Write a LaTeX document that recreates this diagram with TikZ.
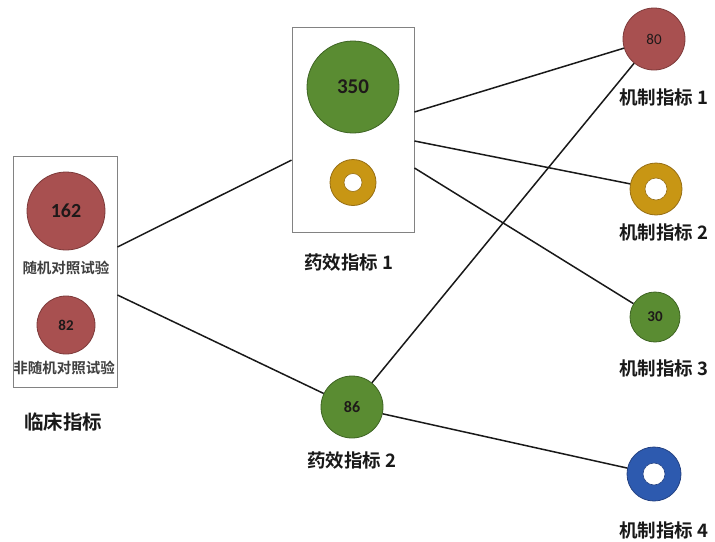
\documentclass[tikz,border=0pt]{standalone}
\usepackage{fontspec}
\newfontfamily\cjk{Noto Sans CJK SC}[BoldFont={* Bold}]
\newfontfamily\numf{Carlito}
\definecolor{redf}{RGB}{168,80,80}
\definecolor{rede}{RGB}{125,58,58}
\definecolor{greenf}{RGB}{90,140,50}
\definecolor{greene}{RGB}{62,100,35}
\definecolor{goldf}{RGB}{200,150,20}
\definecolor{golde}{RGB}{150,110,20}
\definecolor{bluef}{RGB}{45,90,175}
\definecolor{bluee}{RGB}{35,65,130}
\definecolor{boxe}{RGB}{130,130,130}
\definecolor{numc}{RGB}{30,25,25}
\tikzset{
  bubble/.style={circle, inner sep=0pt, line width=0.8pt, text=numc, font=\numf\bfseries},
  holeb/.style={circle, inner sep=0pt, fill=white, draw=#1, line width=0.6pt, minimum size=20pt},
  groupbox/.style={draw=boxe, line width=0.9pt, fill=white, rectangle, inner sep=0pt},
  biglabel/.style={font=\cjk\bfseries\fontsize{18.5}{18.5}\selectfont, text=black!90},
  smalllabel/.style={font=\cjk\bfseries\fontsize{14.5}{14.5}\selectfont, text=black!75},
  link/.style={line width=1.5pt, black!90}
}
\begin{document}
\begin{tikzpicture}[x=1pt,y=-1pt]
\useasboundingbox (0,0) rectangle (715,541);
% boxes
\node[groupbox, minimum width=104pt, minimum height=231pt] (L) at (65,271.5) {};
\node[groupbox, minimum width=122pt, minimum height=205pt] (M) at (353,129.5) {};
% left box content
\node[bubble, fill=redf, draw=rede, minimum size=78pt, font=\numf\bfseries\fontsize{20}{20}\selectfont] (c162) at (66,211) {162};
\node[smalllabel] (t162) at (66,268) {随机对照试验};
\node[bubble, fill=redf, draw=rede, minimum size=58pt, font=\numf\bfseries\fontsize{15}{15}\selectfont] (c82) at (66,325) {82};
\node[smalllabel] (t82) at (64,368) {非随机对照试验};
\node[biglabel, font=\cjk\bfseries\fontsize{19.5}{19.5}\selectfont] (tL) at (63,422) {临床指标};
% middle box content
\node[bubble, fill=greenf, draw=greene, minimum size=92pt, font=\numf\bfseries\fontsize{21}{21}\selectfont] (c350) at (353,87) {350};
\node[bubble, fill=goldf, draw=golde, minimum size=46pt] (r1) at (353,182.5) {};
\node[holeb=golde, minimum size=18pt] (h1) at (r1) {};
\node[biglabel] (tM) at (349,262) {药效指标 1};
% pharmacodynamic 2
\node[bubble, fill=greenf, draw=greene, minimum size=62pt, font=\numf\bfseries\fontsize{16}{16}\selectfont] (c86) at (352,407) {86};
\node[biglabel] (t86) at (352,460) {药效指标 2};
% mechanism
\node[bubble, fill=redf, draw=rede, minimum size=62pt, font=\numf\fontsize{15}{15}\selectfont] (c80) at (654,39) {80};
\node[biglabel] (t80) at (664,97) {机制指标 1};
\node[bubble, fill=goldf, draw=golde, minimum size=52pt] (r2) at (656,189) {};
\node[holeb=golde, minimum size=22pt] (h2) at (r2) {};
\node[biglabel] (tr2) at (664,232) {机制指标 2};
\node[bubble, fill=greenf, draw=greene, minimum size=50pt, font=\numf\bfseries\fontsize{15}{15}\selectfont] (c30) at (655,317) {30};
\node[biglabel] (t30) at (664,368) {机制指标 3};
\node[bubble, fill=bluef, draw=bluee, minimum size=54pt] (r4) at (654,474) {};
\node[holeb=bluee, minimum size=22pt] (h4) at (r4) {};
\node[biglabel] (tr4) at (664,530) {机制指标 4};
% connectors
\draw[link] ([yshift=24.5pt]L.east) -- (M);
\draw[link] ([yshift=-23.5pt]L.east) -- (c86);
\draw[link] ([yshift=17.5pt]M.east) -- (c80);
\draw[link] ([yshift=-11.5pt]M.east) -- (r2);
\draw[link] ([yshift=-38.5pt]M.east) -- (c30);
\draw[link] (c86) -- (c80);
\draw[link] (c86) -- (r4);
\end{tikzpicture}
\end{document}
